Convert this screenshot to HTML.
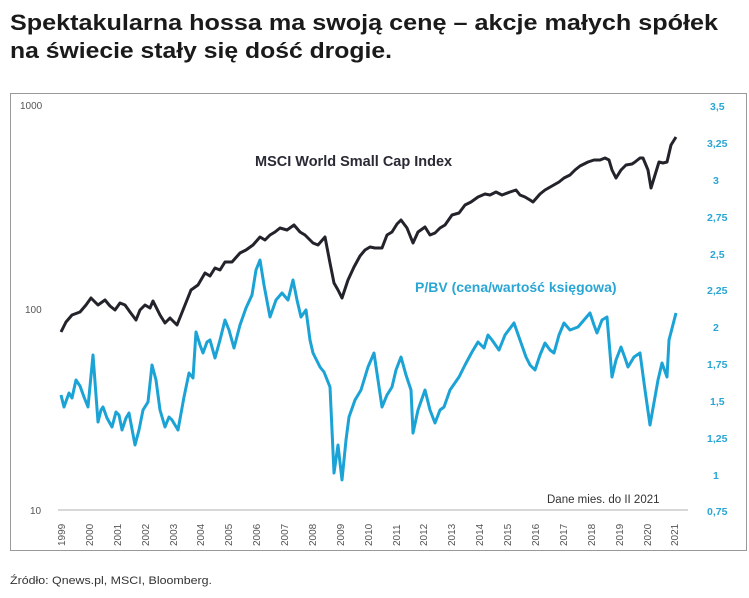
<!DOCTYPE html>
<html><head><meta charset="utf-8"><style>
body{margin:0;background:#fff;width:749px;height:593px;overflow:hidden;font-family:"Liberation Sans",sans-serif}
</style></head><body>
<svg width="749" height="593" xmlns="http://www.w3.org/2000/svg" font-family="Liberation Sans, sans-serif">
<text x="10" y="30" font-size="22" font-weight="bold" fill="#1a1a1a" textLength="708" lengthAdjust="spacingAndGlyphs">Spektakularna hossa ma swoją cenę – akcje małych spółek</text>
<text x="10" y="58" font-size="22" font-weight="bold" fill="#1a1a1a" textLength="382" lengthAdjust="spacingAndGlyphs">na świecie stały się dość drogie.</text>
<rect x="10.5" y="93.5" width="736" height="457" fill="none" stroke="#999" stroke-width="1"/>
<g font-size="10" fill="#555">
<text x="20" y="109">1000</text><text x="25" y="313">100</text><text x="30" y="514">10</text>
</g>
<g font-size="10.5" fill="#2aa6d4" font-weight="bold">
<text x="710" y="110">3,5</text><text x="707" y="147">3,25</text><text x="713" y="184">3</text>
<text x="707" y="221">2,75</text><text x="710" y="258">2,5</text><text x="707" y="294">2,25</text>
<text x="713" y="331">2</text><text x="707" y="368">1,75</text><text x="710" y="405">1,5</text>
<text x="707" y="442">1,25</text><text x="713" y="479">1</text><text x="707" y="515">0,75</text>
</g>
<line x1="58" y1="510" x2="688" y2="510" stroke="#ccc" stroke-width="1.5"/>
<g font-size="10" fill="#555">
<text transform="translate(65,546) rotate(-90)">1999</text><text transform="translate(93,546) rotate(-90)">2000</text><text transform="translate(121,546) rotate(-90)">2001</text><text transform="translate(149,546) rotate(-90)">2002</text><text transform="translate(177,546) rotate(-90)">2003</text><text transform="translate(204,546) rotate(-90)">2004</text><text transform="translate(232,546) rotate(-90)">2005</text><text transform="translate(260,546) rotate(-90)">2006</text><text transform="translate(288,546) rotate(-90)">2007</text><text transform="translate(316,546) rotate(-90)">2008</text><text transform="translate(344,546) rotate(-90)">2009</text><text transform="translate(372,546) rotate(-90)">2010</text><text transform="translate(400,546) rotate(-90)">2011</text><text transform="translate(427,546) rotate(-90)">2012</text><text transform="translate(455,546) rotate(-90)">2013</text><text transform="translate(483,546) rotate(-90)">2014</text><text transform="translate(511,546) rotate(-90)">2015</text><text transform="translate(539,546) rotate(-90)">2016</text><text transform="translate(567,546) rotate(-90)">2017</text><text transform="translate(595,546) rotate(-90)">2018</text><text transform="translate(623,546) rotate(-90)">2019</text><text transform="translate(651,546) rotate(-90)">2020</text><text transform="translate(678,546) rotate(-90)">2021</text>
</g>
<text x="255" y="166" font-size="14.5" font-weight="bold" fill="#2a2a35">MSCI World Small Cap Index</text>
<text x="415" y="292" font-size="14" font-weight="bold" fill="#2aa6d4">P/BV (cena/wartość księgowa)</text>
<text x="547" y="503" font-size="11.5" fill="#333">Dane mies. do II 2021</text>
<polyline fill="none" stroke="#1ba3d6" stroke-width="3" stroke-linejoin="round" points="61,395 64,407 69,393 72,398 76,380 80,386 84,397 88,407 93,355 98,422 101,410 103,407 107,418 112,427 116,412 119,415 122,430 126,418 129,413 135,445 139,430 143,410 148,402 152,365 156,380 160,410 165,427 169,417 172,420 178,430 184,397 189,373 193,378 196,332 200,345 203,353 207,342 210,340 215,358 220,340 225,320 229,330 234,348 240,325 246,308 252,295 256,270 260,260 264,285 270,317 276,300 282,293 288,300 293,280 297,300 301,317 306,310 310,340 313,353 320,367 324,372 330,387 334,473 338,445 342,480 346,440 349,417 355,400 361,390 368,367 374,353 378,380 382,407 387,395 392,387 396,370 401,357 406,375 411,390 413,433 418,410 425,390 430,410 435,423 440,410 444,407 450,390 459,377 465,365 472,352 478,342 484,348 488,335 492,340 499,350 505,335 514,323 520,340 526,357 530,365 535,370 540,355 545,343 550,350 554,353 559,335 564,323 570,330 578,327 584,320 590,313 594,325 597,333 602,320 607,317 612,377 616,360 621,347 625,358 628,367 634,357 640,353 645,390 650,425 655,397 658,380 662,363 667,377 669,340 676,313"/>
<polyline fill="none" stroke="#23232b" stroke-width="3" stroke-linejoin="round" points="61,332 66,322 72,315 80,312 86,305 91,298 98,305 105,300 110,306 115,310 120,303 125,305 130,312 136,320 140,310 145,305 150,308 153,301 160,315 165,323 170,318 177,325 185,305 191,290 198,285 205,273 210,276 215,268 220,270 225,262 232,262 240,253 246,250 253,245 260,237 265,240 270,235 275,232 280,228 287,230 294,225 300,232 305,235 313,243 318,245 325,237 330,263 334,283 338,290 342,298 348,280 354,267 360,256 365,250 370,247 375,248 382,248 387,235 392,232 397,224 401,220 407,228 413,243 418,232 425,227 430,235 435,233 440,228 445,225 452,215 459,213 465,205 471,202 478,197 485,194 490,195 496,192 502,195 510,192 516,190 520,195 525,197 530,200 533,202 540,194 545,190 552,186 559,182 564,178 570,175 575,170 580,166 588,162 594,160 600,160 605,158 609,160 612,170 616,178 621,170 626,165 632,164 635,162 640,158 643,158 648,170 651,188 655,175 659,162 663,163 667,162 671,145 676,137"/>
<text x="10" y="584" font-size="11" fill="#333" textLength="202" lengthAdjust="spacingAndGlyphs">Źródło: Qnews.pl, MSCI, Bloomberg.</text>
</svg>
</body></html>
